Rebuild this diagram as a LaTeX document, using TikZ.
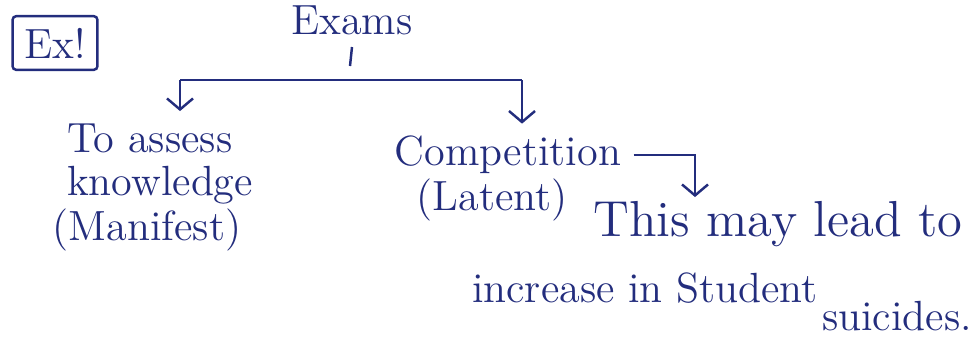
\documentclass[tikz,border=0pt]{standalone}
\usepackage{tikz}
\usetikzlibrary{arrows.meta,positioning}
\definecolor{ink}{RGB}{35,45,125}
\tikzset{>={Straight Barb[length=1.1mm,width=2.6mm]},every node/.style={font=\large,text=ink},flow/.style={ink,line width=.7pt,->},penline/.style={ink,line width=.7pt}}
\begin{document}
\begin{tikzpicture}[x=.01cm,y=-.01cm]
\useasboundingbox (0,0) rectangle (980,338);
\node[draw=ink,line width=.7pt,rounded corners=1pt,minimum width=.8cm,minimum height=.45cm] (ex) at (55,43){Ex!};
\node (exams) at (352,20){Exams};
\coordinate (tick) at (350,66);\coordinate (bl) at (180,80);\coordinate (br) at (522,80);\coordinate (turn) at (695,155);
\draw[penline] (exams.south) -- (tick);\draw[penline] (bl) -- (br);
\node (assess) at (150,138){To assess};\node (know) at (160,185){knowledge};\node (manif) at (147,230){(Manifest)};
\node (comp) at (508,155){Competition};\node (latent) at (492,200){(Latent)};
\node[font=\Large,inner sep=1pt] (lead) at (778,224){This may lead to};\node (incr) at (645,288){increase in Student};\node[inner sep=1pt] (suic) at (897,316){suicides.};
\foreach \c/\n in {bl/assess,br/comp}{\draw[flow] (\c) -- (\c |- \n.north);}
\draw[flow] (comp.east) -- (turn) -- (turn |- lead.north);
\end{tikzpicture}
\end{document}
